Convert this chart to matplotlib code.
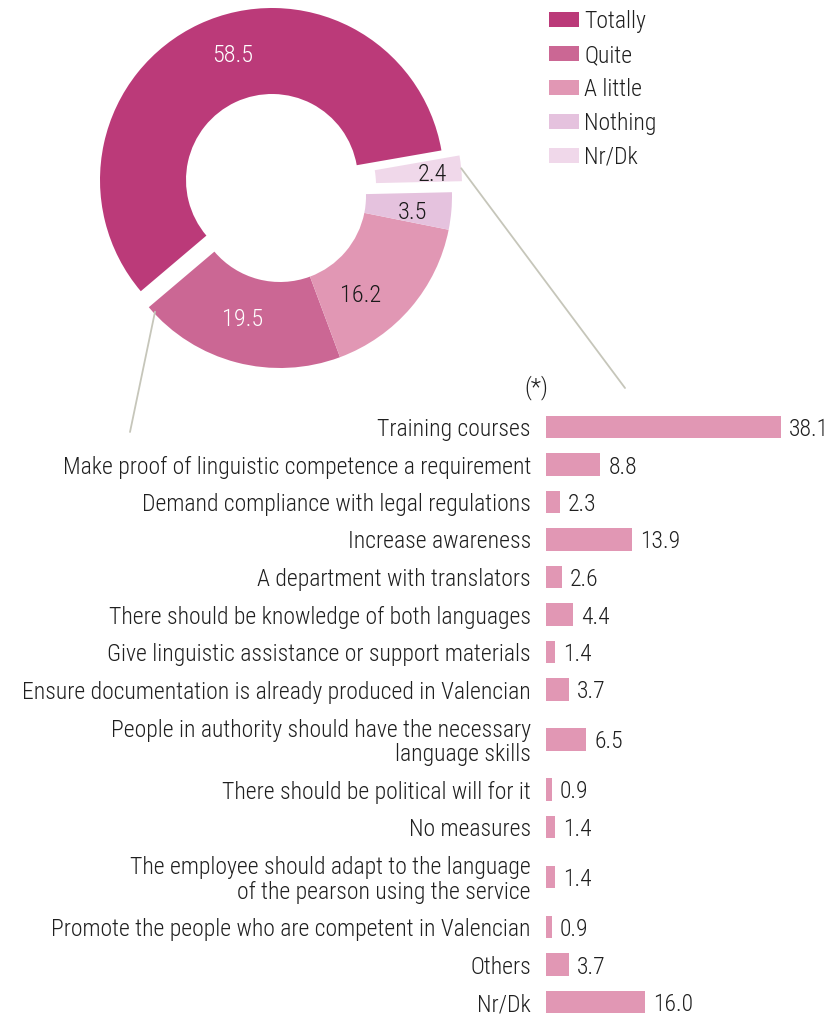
import matplotlib
matplotlib.use("Agg")
import numpy as np
import matplotlib.pyplot as plt
from matplotlib import font_manager
from matplotlib.font_manager import FontProperties
from matplotlib.patches import ConnectionPatch

W, H, DPI = 829, 1016, 100

# ---- donut: degree of agreement ----
donut_labels = ["Totally", "Quite", "A little", "Nothing", "Nr/Dk"]
donut_values = [58.5, 19.5, 16.2, 3.5, 2.4]
donut_colors = ["#BB3A79", "#CB6794", "#E197B4", "#E5C2DE", "#F0D8EA"]
donut_text_colors = ["white", "white", "#1a1a1a", "#1a1a1a", "#1a1a1a"]

# ---- bars: proposed measures (*) ----
measure_labels = [
    "Training courses",
    "Make proof of linguistic competence a requirement",
    "Demand compliance with legal regulations",
    "Increase awareness",
    "A department with translators",
    "There should be knowledge of both languages",
    "Give linguistic assistance or support materials",
    "Ensure documentation is already produced in Valencian",
    "People in authority should have the necessary\nlanguage skills",
    "There should be political will for it",
    "No measures",
    "The employee should adapt to the language\nof the pearson using the service",
    "Promote the people who are competent in Valencian",
    "Others",
    "Nr/Dk",
]
measure_values = [38.1, 8.8, 2.3, 13.9, 2.6, 4.4, 1.4, 3.7, 6.5, 0.9, 1.4, 1.4, 0.9, 3.7, 16.0]
bar_color = "#E197B4"
text_color = "#1f1f1f"
connector_color = "#C6C6BA"


def pick_font():
    """Prefer a condensed light sans; fall back to Roboto."""
    entries = font_manager.fontManager.ttflist
    cond = {"condensed", "semi-condensed", "extra-condensed", "ultra-condensed"}

    def find(name, stretch_set=None):
        return [e for e in entries if e.name == name
                and (stretch_set is None or str(e.stretch) in stretch_set)]

    options = [
        ("Roboto Condensed", None, "normal"),
        ("Roboto", cond, "condensed"),
        ("Liberation Sans Narrow", None, "normal"),
        ("Noto Sans", cond, "condensed"),
        ("Open Sans Condensed", None, "normal"),
        ("Open Sans", cond, "condensed"),
        ("DejaVu Sans", cond, "condensed"),
        ("Roboto", None, "normal"),
    ]
    for name, sset, stretch in options:
        found = find(name, sset)
        if found:
            weights = []
            for e in found:
                try:
                    weights.append(int(e.weight))
                except (TypeError, ValueError):
                    weights.append(400)
            weight = 300 if any(w <= 300 for w in weights) else 400
            return name, stretch, weight
    return "DejaVu Sans", "normal", 400


FONT, STRETCH, WEIGHT = pick_font()


def fp(size, weight=None):
    return FontProperties(family=FONT, stretch=STRETCH,
                          weight=WEIGHT if weight is None else weight, size=size)


fig = plt.figure(figsize=(W / DPI, H / DPI), dpi=DPI)
fig.patch.set_facecolor("white")

# fit the font so the longest single-line label spans ~472 px
renderer = fig.canvas.get_renderer()
probe = fig.text(0, 0, "Make proof of linguistic competence a requirement", fontproperties=fp(10))
probe_w = probe.get_window_extent(renderer).width
probe.remove()
FS = min(17.0, 10 * 472 / probe_w)
FS_PIE = 17.5


def px(x, y):
    """Top-left pixel position -> figure fraction."""
    return x / W, 1 - y / H


# ---------------- donut ----------------
cx, cy, R = 280, 196, 172
span = 1.3
ax_pie = fig.add_axes([(cx - span * R) / W, 1 - (cy + span * R) / H,
                       2 * span * R / W, 2 * span * R / H])
wedges, _ = ax_pie.pie(donut_values, colors=donut_colors, startangle=9.9,
                       counterclock=True, radius=1.0,
                       wedgeprops=dict(width=0.5, linewidth=0))
ax_pie.set_xlim(-span, span)
ax_pie.set_ylim(-span, span)
ax_pie.set_aspect("equal")
ax_pie.axis("off")

# pulled-out slices (pixel offsets, y downward)
slice_shift = [(-8, -16), (0, 0), (0, 0), (0, 0), (10, -11)]
label_nudge = [(16, -9), (-4, -5), (-19, 12), (2, 3), (12, 0)]
for w, (dx, dy), (nx, ny), val, tc in zip(wedges, slice_shift, label_nudge,
                                           donut_values, donut_text_colors):
    c = (dx / R, -dy / R)
    w.set_center(c)
    mid = np.deg2rad((w.theta1 + w.theta2) / 2)
    lx = c[0] + 0.76 * np.cos(mid) + nx / R
    ly = c[1] + 0.76 * np.sin(mid) - ny / R
    ax_pie.text(lx, ly, f"{val:.1f}", ha="center", va="center_baseline",
                color=tc, fontproperties=fp(FS_PIE))

# legend
leg_fs_px = FS * DPI / 72
fig.legend(wedges, donut_labels, loc="upper left",
           bbox_to_anchor=px(549, 10), frameon=False, prop=fp(FS),
           handlelength=30 / leg_fs_px, handleheight=14 / leg_fs_px,
           handletextpad=5 / leg_fs_px, labelspacing=0.46,
           borderpad=0, borderaxespad=0, labelcolor=text_color)

# ---------------- bars ----------------
two_line = ["\n" in s for s in measure_labels]
ypos = [0.0]
for i in range(1, len(measure_labels)):
    ypos.append(ypos[-1] + 1 + (two_line[i - 1] + two_line[i]) / 3)

row_px = 37.5
first_px = 427
top_px = 398
x_left_px = 546
unit_px = 6.17
xmax = 45
ax_bar = fig.add_axes([x_left_px / W, 0, xmax * unit_px / W, 1 - top_px / H])
ax_bar.barh(ypos, measure_values, height=0.6, color=bar_color, linewidth=0)
ax_bar.set_xlim(0, xmax)
ax_bar.set_ylim((H - first_px) / row_px, -(first_px - top_px) / row_px)
ax_bar.set_yticks(ypos, measure_labels)
for lbl in ax_bar.get_yticklabels():
    lbl.set_fontproperties(fp(FS))
    lbl.set_color(text_color)
    lbl.set_linespacing(1.08)
ax_bar.tick_params(axis="y", length=0, pad=15 * 72 / DPI)
ax_bar.set_xticks([])
for sp in ax_bar.spines.values():
    sp.set_visible(False)
ax_bar.patch.set_alpha(0)
for y, v in zip(ypos, measure_values):
    ax_bar.text(v + 8 / unit_px, y, f"{v:.1f}", ha="left", va="center_baseline",
                color=text_color, fontproperties=fp(FS), clip_on=False)

fig.text(*px(536, 388), "(*)", ha="center", va="center",
         color=text_color, fontproperties=fp(FS))

# ---------------- connectors ----------------
quite, nrdk = wedges[1], wedges[4]
a = np.deg2rad(quite.theta1 + 2.5)
qa = (quite.center[0] + 0.99 * np.cos(a), quite.center[1] + 0.99 * np.sin(a))
a = np.deg2rad((nrdk.theta1 + nrdk.theta2) / 2)
na = (nrdk.center[0] + 1.0 * np.cos(a), nrdk.center[1] + 1.0 * np.sin(a))
for start, end in [(qa, (130, 432)), (na, (625, 388))]:
    con = ConnectionPatch(xyA=start, coordsA=ax_pie.transData,
                          xyB=(end[0], H - end[1]), coordsB="figure pixels",
                          color=connector_color, lw=1.3)
    fig.add_artist(con)

fig.savefig("out.png", dpi=DPI, facecolor="white")
